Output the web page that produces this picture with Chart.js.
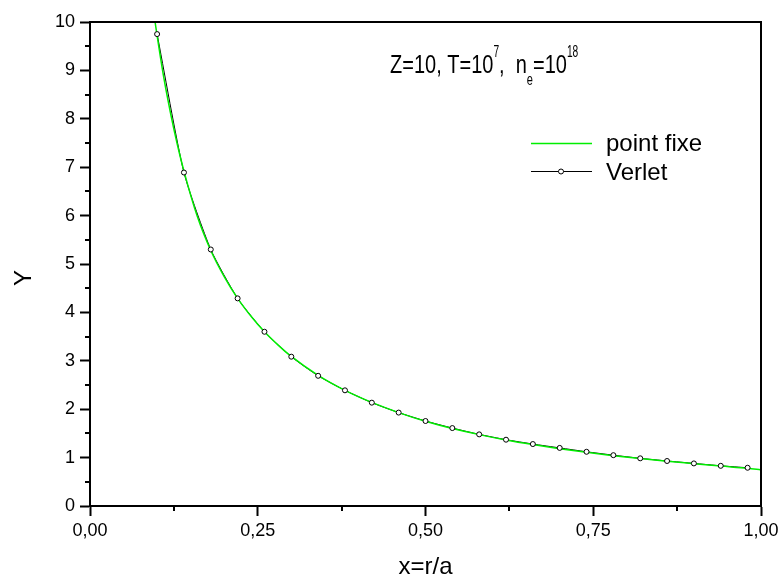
<!DOCTYPE html>
<html>
<head>
<meta charset="utf-8">
<script src="https://cdn.jsdelivr.net/npm/chart.js@4/dist/chart.umd.min.js"></script>
<style>
  html, body { margin: 0; padding: 0; background: #fff; }
  #wrap { width: 784px; height: 582px; }
</style>
</head>
<body>
<div id="wrap"><canvas id="chart" width="784" height="582"></canvas></div>
<script>
// values
const verletX = [0.10, 0.14, 0.18, 0.22, 0.26, 0.30, 0.34, 0.38, 0.42, 0.46, 0.50, 0.54,
                 0.58, 0.62, 0.66, 0.70, 0.74, 0.78, 0.82, 0.86, 0.90, 0.94, 0.98];
const verletY = [9.75, 6.89, 5.30, 4.29, 3.60, 3.085, 2.69, 2.39, 2.135, 1.93, 1.756, 1.61,
                 1.48, 1.37, 1.28, 1.20, 1.12, 1.05, 0.985, 0.93, 0.88, 0.83, 0.79];

const fixeX = [0.097, 0.10, 0.11, 0.12, 0.13, 0.14, 0.16, 0.18, 0.20, 0.22, 0.24, 0.26, 0.28,
               0.30, 0.34, 0.38, 0.42, 0.46, 0.50, 0.54, 0.58, 0.62, 0.66, 0.70, 0.74, 0.78,
               0.82, 0.86, 0.90, 0.94, 0.98, 1.00];
const fixeY = [10.0, 9.72, 8.85, 8.12, 7.48, 6.92, 5.98, 5.28, 4.74, 4.29, 3.92, 3.60, 3.33,
               3.09, 2.70, 2.39, 2.14, 1.93, 1.75, 1.60, 1.475, 1.365, 1.27, 1.185, 1.11, 1.04,
               0.98, 0.925, 0.875, 0.825, 0.78, 0.745];

const seriesNames = ['point fixe', 'Verlet'];
const xTicks = [0, 0.25, 0.5, 0.75, 1];
const xMinor = [0.125, 0.375, 0.625, 0.875];
const yMinor = [0.5, 1.5, 2.5, 3.5, 4.5, 5.5, 6.5, 7.5, 8.5, 9.5];

const FONT = '"Liberation Sans", Arial, sans-serif';
const GREEN = '#00ee00';

const verletPts = verletX.map((x, i) => ({x: x, y: verletY[i]}));
const fixePts = fixeX.map((x, i) => ({x: x, y: fixeY[i]}));

const extras = {
    id: 'extras',
    afterDraw(chart) {
        const ctx = chart.ctx;
        const a = chart.chartArea;
        const xs = chart.scales.x;
        const ys = chart.scales.y;
        ctx.save();

        // frame top and right
        ctx.strokeStyle = '#000';
        ctx.lineWidth = 2;
        ctx.beginPath();
        ctx.moveTo(a.left - 1, a.top);
        ctx.lineTo(a.right, a.top);
        ctx.lineTo(a.right, a.bottom);
        ctx.stroke();

        // minor ticks
        ctx.beginPath();
        yMinor.forEach(v => {
            const py = Math.round(ys.getPixelForValue(v));
            ctx.moveTo(a.left, py);
            ctx.lineTo(a.left - 5, py);
        });
        xMinor.forEach(v => {
            const px = Math.round(xs.getPixelForValue(v));
            ctx.moveTo(px, a.bottom);
            ctx.lineTo(px, a.bottom + 5);
        });
        ctx.stroke();

        // y title
        ctx.fillStyle = '#000';
        ctx.font = '24px ' + FONT;
        ctx.textAlign = 'center';
        ctx.textBaseline = 'middle';
        ctx.save();
        ctx.translate(24, 278);
        ctx.rotate(-Math.PI / 2);
        ctx.fillText('Y', 0, 0);
        ctx.restore();

        // annotation (text, size, baseline, x squeeze)
        ctx.textAlign = 'left';
        ctx.textBaseline = 'alphabetic';
        let px = 390;
        const parts = [
            ['Z=10, T=10', 25, 73, 0.8],
            ['7', 17, 57, 0.6],
            [',  n', 25, 73, 0.8],
            ['e', 17, 85, 0.65],
            ['=10', 25, 73, 0.8],
            ['18', 17, 57, 0.6]
        ];
        parts.forEach(p => {
            ctx.font = p[1] + 'px ' + FONT;
            ctx.save();
            ctx.translate(px, p[2]);
            ctx.scale(p[3], 1);
            ctx.fillText(p[0], 0, 0);
            ctx.restore();
            px += ctx.measureText(p[0]).width * p[3];
        });

        // legend
        ctx.font = '24px ' + FONT;
        ctx.lineWidth = 1.5;
        ctx.strokeStyle = GREEN;
        ctx.beginPath();
        ctx.moveTo(531, 143.5);
        ctx.lineTo(592, 143.5);
        ctx.stroke();
        ctx.fillText(seriesNames[0], 606, 151);

        ctx.lineWidth = 1;
        ctx.strokeStyle = '#000';
        ctx.beginPath();
        ctx.moveTo(531, 171.5);
        ctx.lineTo(592, 171.5);
        ctx.stroke();
        ctx.beginPath();
        ctx.arc(561, 171.5, 2.5, 0, Math.PI * 2);
        ctx.fillStyle = '#fff';
        ctx.fill();
        ctx.stroke();
        ctx.fillStyle = '#000';
        ctx.fillText(seriesNames[1], 606, 180);

        ctx.restore();
    }
};

new Chart(document.getElementById('chart'), {
    type: 'scatter',
    data: {
        datasets: [
            {
                label: seriesNames[1] + ' line',
                data: verletPts,
                showLine: true,
                borderColor: '#000',
                borderWidth: 1,
                pointRadius: 0,
                tension: 0.2,
                order: 3
            },
            {
                label: seriesNames[0],
                data: fixePts,
                showLine: true,
                borderColor: GREEN,
                borderWidth: 1.5,
                pointRadius: 0,
                cubicInterpolationMode: 'monotone',
                order: 2
            },
            {
                label: seriesNames[1],
                data: verletPts,
                showLine: false,
                pointRadius: 2.5,
                pointBorderWidth: 1,
                pointBorderColor: '#000',
                pointBackgroundColor: '#fff',
                order: 1
            }
        ]
    },
    options: {
        responsive: false,
        animation: false,
        events: [],
        layout: { padding: { left: 0, top: 22, right: 23, bottom: 0 } },
        plugins: {
            legend: { display: false },
            tooltip: { enabled: false }
        },
        scales: {
            x: {
                type: 'linear',
                min: 0,
                max: 1,
                afterBuildTicks: s => { s.ticks = xTicks.map(v => ({value: v})); },
                afterFit: s => { s.height = 76; },
                ticks: {
                    color: '#000',
                    padding: 4,
                    maxRotation: 0,
                    font: { family: FONT, size: 18 },
                    callback: v => v.toFixed(2).replace('.', ',')
                },
                grid: {
                    drawOnChartArea: false,
                    drawTicks: true,
                    tickLength: 10,
                    tickColor: '#000',
                    tickWidth: 2
                },
                border: { color: '#000', width: 2 },
                title: {
                    display: true,
                    text: 'x=r/a',
                    color: '#000',
                    font: { family: FONT, size: 24 },
                    padding: { top: 0, bottom: 0 }
                }
            },
            y: {
                min: 0,
                max: 10,
                afterFit: s => { s.width = 90; },
                ticks: {
                    stepSize: 1,
                    color: '#000',
                    padding: 5,
                    font: { family: FONT, size: 18 }
                },
                grid: {
                    drawOnChartArea: false,
                    drawTicks: true,
                    tickLength: 10,
                    tickColor: '#000',
                    tickWidth: 2
                },
                border: { color: '#000', width: 2 }
            }
        }
    },
    plugins: [extras]
});
</script>
</body>
</html>
